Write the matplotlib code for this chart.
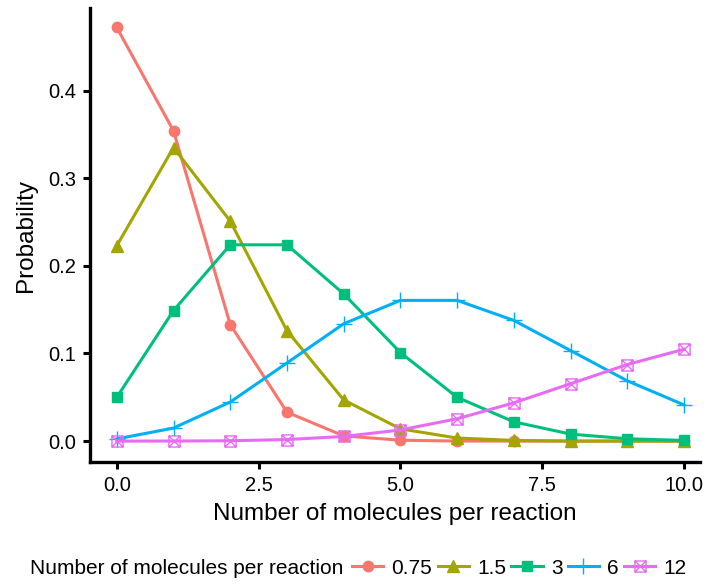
import matplotlib
matplotlib.use("Agg")
import matplotlib.pyplot as plt
from matplotlib.path import Path

plt.rcParams['font.family'] = ['Liberation Sans', 'DejaVu Sans']

x = [0, 1, 2, 3, 4, 5, 6, 7, 8, 9, 10]
p075 = [0.472, 0.354, 0.133, 0.033, 0.006, 0.001, 0.0001, 0.0, 0.0, 0.0, 0.0]
p15 = [0.223, 0.335, 0.251, 0.126, 0.047, 0.014, 0.0035, 0.0008, 0.0001, 0.0, 0.0]
p3 = [0.050, 0.149, 0.224, 0.224, 0.168, 0.101, 0.050, 0.022, 0.008, 0.0027, 0.0008]
p6 = [0.0025, 0.0149, 0.0446, 0.0892, 0.1339, 0.1606, 0.1606, 0.1377, 0.1033, 0.0688, 0.0413]
p12 = [0.0, 0.0001, 0.0004, 0.0018, 0.0053, 0.0127, 0.0255, 0.0437, 0.0655, 0.0874, 0.1048]
labels = ["0.75", "1.5", "3", "6", "12"]
colors = ["#F8766D", "#A3A500", "#00BF7D", "#00B0F6", "#E76BF3"]

# open square with a cross inside (ggplot shape 7)
sqx = Path([(-1, -1), (1, -1), (1, 1), (-1, 1), (-1, -1),
            (-1, -1), (1, 1), (-1, 1), (1, -1)],
           [Path.MOVETO, Path.LINETO, Path.LINETO, Path.LINETO, Path.CLOSEPOLY,
            Path.MOVETO, Path.LINETO, Path.MOVETO, Path.LINETO])
markers = ["o", "^", "s", "+", sqx]
sizes = [7.5, 8.5, 7.5, 12, 8]

fig = plt.figure(figsize=(7.07, 5.85), dpi=100)
ax = fig.add_axes([0.127, 0.21, 0.863, 0.776])

handles = []
for y, lab, c, m, ms in zip([p075, p15, p3, p6, p12], labels, colors, markers, sizes):
    if m is sqx:
        h, = ax.plot(x, y, color=c, lw=2.2, marker=m, ms=ms, mfc='none',
                     mec=c, mew=1.0, label=lab)
    elif m == "+":
        h, = ax.plot(x, y, color=c, lw=2.2, marker=m, ms=ms, mew=1.0, label=lab)
    else:
        h, = ax.plot(x, y, color=c, lw=2.2, marker=m, ms=ms, label=lab)
    handles.append(h)

ax.set_xlim(-0.476, 10.28)
ax.set_ylim(-0.024, 0.494)
ax.set_xticks([0, 2.5, 5, 7.5, 10])
ax.set_xticklabels(["0.0", "2.5", "5.0", "7.5", "10.0"])
ax.set_yticks([0, 0.1, 0.2, 0.3, 0.4])
ax.set_yticklabels(["0.0", "0.1", "0.2", "0.3", "0.4"])

for s in ["top", "right"]:
    ax.spines[s].set_visible(False)
for s in ["left", "bottom"]:
    ax.spines[s].set_linewidth(2.4)
ax.tick_params(axis="both", length=5, width=2.2, labelsize=14.5, colors="black", pad=5)

ax.set_xlabel("Number of molecules per reaction", fontsize=17.5, labelpad=6)
ax.set_ylabel("Probability", fontsize=17.5, labelpad=8)

fig.text(30 / 707, 0.029, "Number of molecules per reaction", fontsize=15,
         va="center", ha="left")
fig.legend(handles=handles, loc="center left", bbox_to_anchor=(352 / 707, 0.029),
           ncol=5, frameon=False, fontsize=15, handlelength=1.5,
           handletextpad=0.4, columnspacing=0.25, borderaxespad=0, borderpad=0)

fig.savefig("out.png", dpi=100)
